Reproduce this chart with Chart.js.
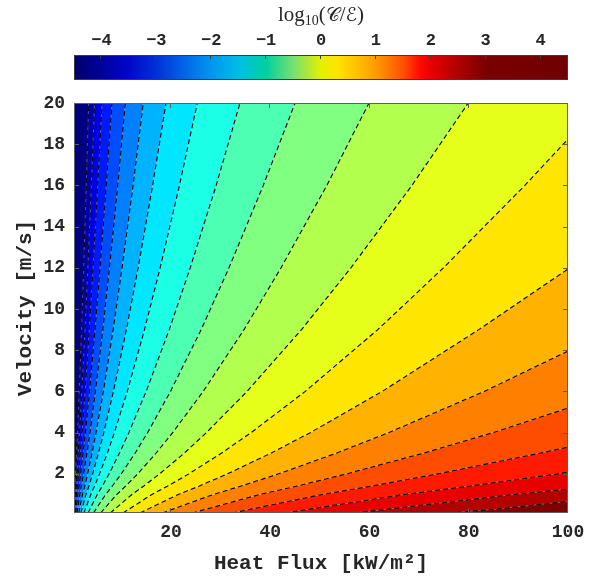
<!DOCTYPE html>
<html>
<head>
<meta charset="utf-8">
<script src="https://cdn.jsdelivr.net/npm/chart.js@4.4.1/dist/chart.umd.min.js"></script>
<style>
  html, body { margin: 0; padding: 0; background: #fff; }
  #wrap { position: relative; width: 601px; height: 579px; }
  canvas { position: absolute; left: 0; top: 0; }
  #cbTitle {
    position: absolute; left: 201px; width: 240px; top: 1px; text-align: center;
    font-family: 'Liberation Serif', 'DejaVu Serif', serif; font-size: 21px;
    line-height: 26px; color: #262626;
  }
  #cbTitle sub { font-size: 14px; vertical-align: -4px; line-height: 0; }
  #cbTitle .cal { font-family: 'DejaVu Sans', 'DejaVu Serif', serif; font-size: 19px; }
</style>
</head>
<body>
<div id="wrap">
  <canvas id="main" width="601" height="579"></canvas>
  <canvas id="bar" width="601" height="100"></canvas>
  <div id="cbTitle">log<sub>10</sub>(<span class="cal">𝒞</span>/<span class="cal">ℰ</span>)</div>
</div>
<script>
// Contour lines of log10(C/E), each as [heat flux kW/m², velocity m/s] pairs,
// listed from the bottom of the plot upward.
const c01 = [[0.33,0.1],[0.37,0.3],[0.43,0.6],[0.52,1],[0.62,1.4],[0.75,2],[0.96,3],[1.15,4],[1.50,6],[1.97,9],[2.39,12],[2.92,16],[3.40,20]];
const c02 = [[0.45,0.1],[0.50,0.3],[0.59,0.6],[0.70,1],[0.83,1.4],[1.02,2],[1.30,3],[1.56,4],[2.03,6],[2.67,9],[3.24,12],[3.95,16],[4.60,20]];
const c03 = [[0.59,0.1],[0.67,0.3],[0.78,0.6],[0.93,1],[1.10,1.4],[1.35,2],[1.73,3],[2.07,4],[2.70,6],[3.53,9],[4.29,12],[5.23,16],[6.10,20]];
const c04 = [[0.79,0.1],[0.88,0.3],[1.03,0.6],[1.23,1],[1.47,1.4],[1.80,2],[2.29,3],[2.75,4],[3.58,6],[4.69,9],[5.70,12],[6.95,16],[8.10,20]];
const c05 = [[1.05,0.1],[1.18,0.3],[1.38,0.6],[1.64,1],[1.95,1.4],[2.39,2],[3.06,3],[3.67,4],[4.77,6],[6.26,9],[7.60,12],[9.27,16],[10.8,20]];
const c06 = [[1.40,0.1],[1.57,0.3],[1.83,0.6],[2.18,1],[2.61,1.4],[3.19,2],[4.08,3],[4.89,4],[6.37,6],[8.34,9],[10.14,12],[12.36,16],[14.4,20]];
const c07 = [[1.84,0.1],[2.07,0.3],[2.42,0.6],[2.88,1],[3.44,1.4],[4.21,2],[5.38,3],[6.45,4],[8.40,6],[11.01,9],[13.38,12],[16.3,16],[19.0,20]];
const c08 = [[2.45,0.1],[2.76,0.3],[3.22,0.6],[3.84,1],[4.58,1.4],[5.61,2],[7.17,3],[8.59,4],[11.19,6],[14.66,9],[17.81,12],[21.7,16],[25.3,20]];
const c09 = [[3.29,0.1],[3.70,0.3],[4.32,0.6],[5.14,1],[6.14,1.4],[7.52,2],[9.60,3],[11.51,4],[14.99,6],[19.65,9],[23.87,12],[29.1,16],[33.9,20]];
const c10 = [[4.37,0.1],[4.91,0.3],[5.73,0.6],[6.83,1],[8.15,1.4],[9.98,2],[12.75,3],[15.28,4],[19.89,6],[26.08,9],[31.68,12],[38.6,16],[45.0,20]];
const c11 = [[5.81,0.1],[6.54,0.3],[7.63,0.6],[9.09,1],[10.84,1.4],[13.28,2],[16.97,3],[20.34,4],[26.48,6],[34.71,9],[42.17,12],[51.4,16],[59.9,20]];
const c12 = [[7.75,0.1],[8.73,0.3],[10.18,0.6],[12.12,1],[14.46,1.4],[17.71,2],[22.64,3],[27.13,4],[35.32,6],[46.30,9],[56.25,12],[68.55,16],[79.9,20]];
const c13 = [[10.32,0.1],[11.62,0.3],[13.56,0.6],[16.14,1],[19.26,1.4],[23.59,2],[30.14,3],[36.13,4],[47.04,6],[61.66,9],[74.9,12],[91.3,16],[100,18.25]];
const c14 = [[13.73,0.1],[15.45,0.3],[18.03,0.6],[21.47,1],[25.61,1.4],[31.37,2],[40.09,3],[48.05,4],[62.56,6],[82.0,9],[100,11.94]];
const c15 = [[18.24,0.1],[20.53,0.3],[23.95,0.6],[28.52,1],[34.03,1.4],[41.68,2],[53.26,3],[63.84,4],[83.1,6],[100,7.96]];
const c16 = [[24.25,0.1],[27.3,0.3],[31.85,0.6],[37.9,1],[45.25,1.4],[55.4,2],[70.8,3],[84.9,4],[100,5.19]];
const c17 = [[32.3,0.1],[36.4,0.3],[42.4,0.6],[50.5,1],[60.3,1.4],[73.8,2],[94.3,3],[100,3.30]];
const c18 = [[42.9,0.1],[48.3,0.3],[56.3,0.6],[67.05,1],[80.0,1.4],[98.0,2],[100,2.09]];
const c19 = [[57.0,0.1],[64.2,0.3],[74.9,0.6],[89.2,1],[100,1.26]];
const c20 = [[76.0,0.1],[86.0,0.3],[100,0.66]];

// Fill colour of each band, lowest (left) to highest (bottom right)
const bandColors = ['#000080','#0000b3','#0000e6','#001aff','#004dff','#0080ff','#00b3ff',
  '#00e6ff','#1affe6','#4dffb3','#80ff80','#b3ff4d','#e6ff1a','#ffe600','#ffb300',
  '#ff8000','#ff4d00','#ff1a00','#e60000','#b30000','#800000'];

const xRange = [0.45, 100];
const yRange = [0.1, 20];
const xTicks = [20, 40, 60, 80, 100];
const yTicks = [2, 4, 6, 8, 10, 12, 14, 16, 18, 20];

// Colour bar
const barRange = [-4.5, 4.5];
const barTicks = [-4, -3, -2, -1, 0, 1, 2, 3, 4];
const barStops = [-4.5, -4.0, -3.5, -3.0, -2.5, -2.0, -1.5, -1.0, -0.5, 0.0, 0.3, 0.7, 1.0, 1.5, 1.8, 2.0, 2.5, 3.0, 4.5];
const barColors = ['#00006e','#00009c','#0008c8','#0030d8','#0064e8','#0096f0','#00bee4','#00d0a0',
  '#78e070','#e4f000','#ffe400','#ffbc00','#ff9a00','#ff5000','#ff0a00','#e80000','#b00000','#7a0000','#700000'];

const contourLines = [c01, c02, c03, c04, c05, c06, c07, c08, c09, c10,
                      c11, c12, c13, c14, c15, c16, c17, c18, c19, c20];

const ink = '#262626';
const monoFamily = "'Liberation Mono', 'DejaVu Sans Mono', monospace";
const tickFont = { family: monoFamily, size: 18, weight: 'bold' };
const titleFont = { family: monoFamily, size: 21, weight: 'bold' };

const toXY = pts => pts.map(([x, y]) => ({ x, y }));

// Bands are painted in layers: each layer covers everything to the right of /
// below its contour line; later (higher) layers sit on top.
const datasets = [{
  data: [{ x: xRange[0], y: yRange[1] }, { x: xRange[1], y: yRange[1] }],
  showLine: true, fill: 'start', backgroundColor: bandColors[0],
  borderColor: 'transparent', borderWidth: 0, pointRadius: 0, order: 100
}];
contourLines.forEach((pts, i) => {
  const area = toXY(pts);
  const last = pts[pts.length - 1];
  if (last[0] < xRange[1]) area.push({ x: xRange[1], y: yRange[1] });
  datasets.push({
    data: area, showLine: true, fill: 'start', backgroundColor: bandColors[i + 1],
    borderColor: 'transparent', borderWidth: 0, pointRadius: 0, order: 90 - i
  });
});
contourLines.forEach(pts => {
  datasets.push({
    data: toXY(pts), showLine: true, fill: false, borderColor: 'rgba(255,255,255,0.3)',
    borderWidth: 1, pointRadius: 0, order: 2
  });
  datasets.push({
    data: toXY(pts), showLine: true, fill: false, borderColor: '#000',
    borderWidth: 1.1, borderDash: [5, 3], pointRadius: 0, order: 1
  });
});

// Box around the plot with inward tick marks on all four sides
const boxTicks = {
  id: 'boxTicks',
  afterDatasetsDraw(chart) {
    const { ctx, chartArea: a, scales: { x, y } } = chart;
    const len = 5;
    ctx.save();
    ctx.strokeStyle = '#5e5e5e';
    ctx.lineWidth = 1;
    ctx.beginPath();
    x.ticks.forEach(t => {
      const px = Math.round(x.getPixelForValue(t.value)) - 0.5;
      ctx.moveTo(px, a.bottom); ctx.lineTo(px, a.bottom - len);
      ctx.moveTo(px, a.top); ctx.lineTo(px, a.top + len);
    });
    y.ticks.forEach(t => {
      const py = Math.round(y.getPixelForValue(t.value)) + 0.5;
      ctx.moveTo(a.left, py); ctx.lineTo(a.left + len, py);
      ctx.moveTo(a.right, py); ctx.lineTo(a.right - len, py);
    });
    ctx.stroke();
    ctx.strokeRect(a.left + 0.5, a.top + 0.5, a.width - 1, a.height - 1);
    ctx.restore();
  }
};

new Chart(document.getElementById('main'), {
  type: 'scatter',
  data: { datasets },
  options: {
    responsive: false,
    animation: false,
    events: [],
    layout: { padding: { left: 0, right: 33, top: 103, bottom: 0 } },
    elements: { line: { tension: 0, borderCapStyle: 'butt' } },
    plugins: { legend: { display: false }, tooltip: { enabled: false } },
    scales: {
      x: {
        type: 'linear', min: xRange[0], max: xRange[1],
        afterBuildTicks: s => { s.ticks = xTicks.map(value => ({ value })); },
        afterFit: s => { s.height = 66; },
        grid: { display: false, drawTicks: false },
        border: { display: false },
        ticks: { font: tickFont, color: ink, padding: 9, maxRotation: 0, autoSkip: false },
        title: { display: true, text: 'Heat Flux [kW/m²]', font: titleFont, color: ink,
                 padding: { top: 0, bottom: 3 } }
      },
      y: {
        type: 'linear', min: yRange[0], max: yRange[1],
        afterBuildTicks: s => { s.ticks = yTicks.map(value => ({ value })); },
        afterFit: s => { s.width = 74; },
        grid: { display: false, drawTicks: false },
        border: { display: false },
        ticks: { font: tickFont, color: ink, padding: 9, autoSkip: false },
        title: { display: true, text: 'Velocity [m/s]', font: titleFont, color: ink,
                 padding: { top: 13, bottom: 0 } }
      }
    }
  },
  plugins: [boxTicks]
});

// Colour bar: one floating bar spanning the full range, painted with a gradient
const barFrame = {
  id: 'barFrame',
  afterDatasetsDraw(chart) {
    const { ctx, chartArea: a, scales: { x } } = chart;
    ctx.save();
    ctx.strokeStyle = '#3c3c3c';
    ctx.lineWidth = 1;
    ctx.beginPath();
    x.ticks.forEach(t => {
      const px = Math.round(x.getPixelForValue(t.value)) - 0.5;
      ctx.moveTo(px, a.top); ctx.lineTo(px, a.top + 4);
    });
    ctx.stroke();
    ctx.strokeRect(a.left + 0.5, a.top + 0.5, a.width - 1, a.height - 1);
    ctx.restore();
  }
};

new Chart(document.getElementById('bar'), {
  type: 'bar',
  data: {
    labels: [''],
    datasets: [{
      data: [barRange],
      borderWidth: 0,
      barPercentage: 1,
      categoryPercentage: 1,
      backgroundColor: c => {
        const chart = c.chart;
        const x = chart.scales.x;
        if (!chart.chartArea || !x) return barColors[0];
        const x0 = x.getPixelForValue(barRange[0]);
        const x1 = x.getPixelForValue(barRange[1]);
        const g = chart.ctx.createLinearGradient(x0, 0, x1, 0);
        barStops.forEach((v, i) => {
          g.addColorStop((v - barRange[0]) / (barRange[1] - barRange[0]), barColors[i]);
        });
        return g;
      }
    }]
  },
  options: {
    indexAxis: 'y',
    responsive: false,
    animation: false,
    events: [],
    layout: { padding: { left: 74, right: 33, top: 0, bottom: 20 } },
    plugins: { legend: { display: false }, tooltip: { enabled: false } },
    scales: {
      x: {
        type: 'linear', position: 'top', min: barRange[0], max: barRange[1],
        afterBuildTicks: s => { s.ticks = barTicks.map(value => ({ value })); },
        afterFit: s => { s.height = 55; },
        grid: { display: false, drawTicks: false },
        border: { display: false },
        ticks: {
          font: { family: monoFamily, size: 17, weight: 'bold' }, color: ink, padding: 4,
          maxRotation: 0, autoSkip: false,
          callback: v => (v < 0 ? '\u2212' + Math.abs(v) : String(v))
        }
      },
      y: { display: false }
    }
  },
  plugins: [barFrame]
});
</script>
</body>
</html>
